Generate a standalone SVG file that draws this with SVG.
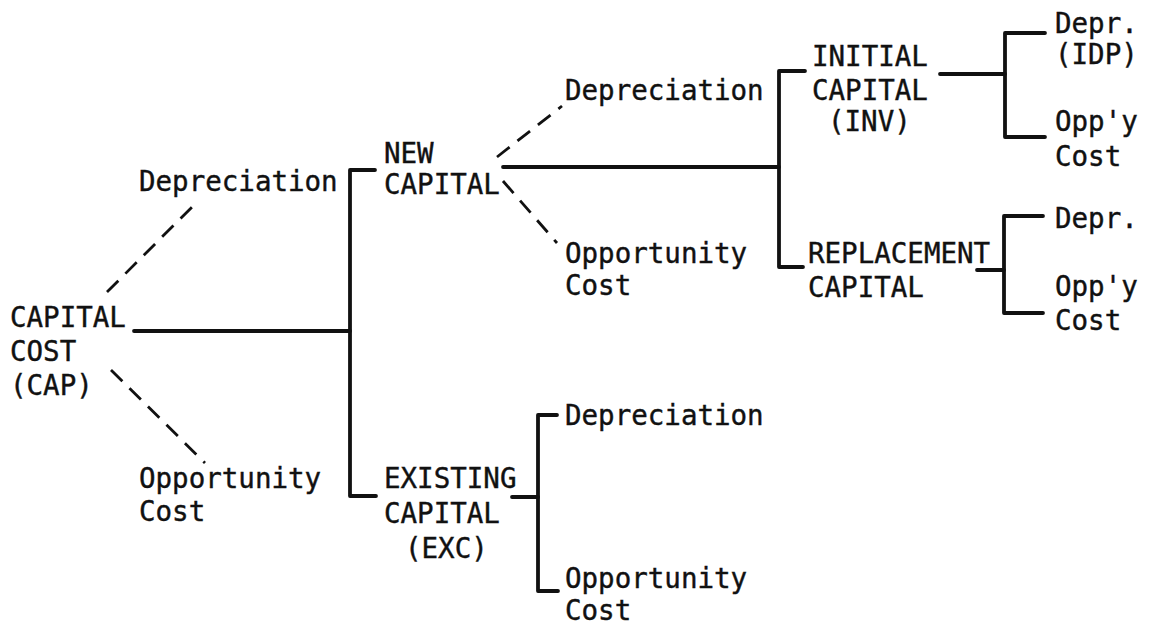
<svg xmlns="http://www.w3.org/2000/svg" width="1152" height="635" viewBox="0 0 1152 635">
<style>
  .t { font-family: "DejaVu Sans Mono", "Liberation Mono", monospace; font-size: 27.5px; fill: #111; stroke: #111; stroke-width: 0.4px; }
  .s { fill: none; stroke: #111; stroke-width: 3.8; stroke-linecap: round; stroke-linejoin: round; }
  .d { fill: none; stroke: #111; stroke-width: 2.8; stroke-dasharray: 16 10; }
</style>
<rect width="1152" height="635" fill="#fff"/>
<g id="connectors">
  <line class="s" x1="134" y1="331" x2="350" y2="331"/>
  <path class="s" d="M375 170 H350 V496 H376"/>
  <line class="d" x1="107" y1="292" x2="197" y2="202"/>
  <line class="d" x1="111" y1="370" x2="205" y2="463"/>
  <line class="s" x1="503" y1="167" x2="779" y2="167"/>
  <path class="s" d="M805 71 H779 V267 H803"/>
  <line class="d" x1="497" y1="157" x2="562" y2="106"/>
  <line class="d" x1="503" y1="181" x2="557" y2="243"/>
  <line class="s" x1="940" y1="74" x2="1005" y2="74"/>
  <path class="s" d="M1045 33 H1005 V137 H1045"/>
  <line class="s" x1="977" y1="270" x2="1004" y2="270"/>
  <path class="s" d="M1043 216 H1004 V313 H1043"/>
  <line class="s" x1="512" y1="497" x2="538" y2="497"/>
  <path class="s" d="M557 415 H538 V591 H558"/>
</g>
<g id="cap">
  <text class="t" x="10" y="327">CAPITAL</text>
  <text class="t" x="10" y="361">COST</text>
  <text class="t" x="10" y="395">(CAP)</text>
</g>
<g id="cap-depreciation">
  <text class="t" x="139" y="191">Depreciation</text>
</g>
<g id="cap-opportunity">
  <text class="t" x="139" y="488">Opportunity</text>
  <text class="t" x="139" y="521">Cost</text>
</g>
<g id="new-capital">
  <text class="t" x="384" y="163">NEW</text>
  <text class="t" x="384" y="194">CAPITAL</text>
</g>
<g id="new-depreciation">
  <text class="t" x="565" y="100">Depreciation</text>
</g>
<g id="new-opportunity">
  <text class="t" x="565" y="263">Opportunity</text>
  <text class="t" x="565" y="295">Cost</text>
</g>
<g id="initial-capital">
  <text class="t" x="812" y="66">INITIAL</text>
  <text class="t" x="812" y="100">CAPITAL</text>
  <text class="t" x="828" y="131">(INV)</text>
</g>
<g id="initial-depr">
  <text class="t" x="1055" y="33">Depr.</text>
  <text class="t" x="1055" y="64">(IDP)</text>
</g>
<g id="initial-oppy">
  <text class="t" x="1055" y="131">Opp'y</text>
  <text class="t" x="1055" y="166">Cost</text>
</g>
<g id="replacement-capital">
  <text class="t" x="808" y="263">REPLACEMENT</text>
  <text class="t" x="808" y="297">CAPITAL</text>
</g>
<g id="replacement-depr">
  <text class="t" x="1055" y="228">Depr.</text>
</g>
<g id="replacement-oppy">
  <text class="t" x="1055" y="296">Opp'y</text>
  <text class="t" x="1055" y="330">Cost</text>
</g>
<g id="existing-capital">
  <text class="t" x="384" y="488">EXISTING</text>
  <text class="t" x="384" y="523">CAPITAL</text>
  <text class="t" x="405" y="558">(EXC)</text>
</g>
<g id="existing-depreciation">
  <text class="t" x="565" y="425">Depreciation</text>
</g>
<g id="existing-opportunity">
  <text class="t" x="565" y="588">Opportunity</text>
  <text class="t" x="565" y="620">Cost</text>
</g>
</svg>
